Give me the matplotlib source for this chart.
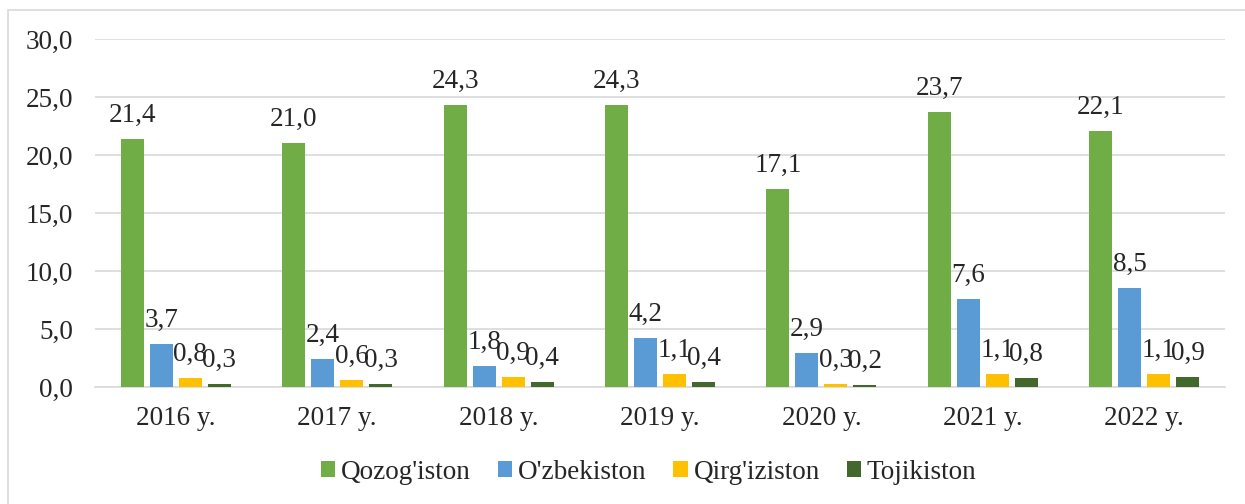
import matplotlib.pyplot as plt
import numpy as np
from matplotlib.patches import Rectangle

years = ["2016 y.", "2017 y.", "2018 y.", "2019 y.", "2020 y.", "2021 y.", "2022 y."]
qozogiston = [21.4, 21.0, 24.3, 24.3, 17.1, 23.7, 22.1]
ozbekiston = [3.7, 2.4, 1.8, 4.2, 2.9, 7.6, 8.5]
qirgiziston = [0.8, 0.6, 0.9, 1.1, 0.3, 1.1, 1.1]
tojikiston = [0.3, 0.3, 0.4, 0.4, 0.2, 0.8, 0.9]

series = [("Qozog'iston", qozogiston, "#70AD47"),
          ("O'zbekiston", ozbekiston, "#5B9BD5"),
          ("Qirg'iziston", qirgiziston, "#FFC000"),
          ("Tojikiston", tojikiston, "#43682B")]

plt.rcParams['font.family'] = ['Liberation Serif', 'DejaVu Serif']
fs = 19.5
txt = "#262626"

fig = plt.figure(figsize=(12.45, 5.04), dpi=100)
ax = fig.add_axes([95 / 1245, 1 - 387 / 504, 1130 / 1245, 348 / 504])

# outer chart border
fig.patches.append(Rectangle((8 / 1245, -0.01), 1.0, 1 - 10 / 504 + 0.01,
                             transform=fig.transFigure, fill=False,
                             edgecolor="#D9D9D9", linewidth=1.2))

x = np.arange(len(years))
w = 23 / 161.4
step = 29 / 161.4
for i, (name, vals, color) in enumerate(series):
    pos = x + (i - 1.5) * step
    ax.bar(pos, vals, width=w, color=color, label=name, zorder=3)
    for px, v in zip(pos, vals):
        ax.annotate(f"{v:.1f}".replace(".", ","), (px, v), xytext=(0, 8),
                    textcoords="offset points", ha="center", va="bottom",
                    fontsize=fs, color=txt, zorder=4)

ax.set_xlim(-0.5, len(years) - 0.5)
ax.set_ylim(0, 30)
ax.set_yticks(np.arange(0, 31, 5))
ax.set_yticklabels([f"{t:.1f}".replace(".", ",") for t in np.arange(0, 31, 5)])
ax.set_xticks(x)
ax.set_xticklabels(years)
ax.tick_params(axis="both", length=0, labelsize=fs, colors=txt)
ax.tick_params(axis="y", pad=16)
ax.tick_params(axis="x", pad=14)
ax.grid(axis="y", color="#D9D9D9", linewidth=1.2, zorder=0)
for s in ["top", "right", "left"]:
    ax.spines[s].set_visible(False)
ax.spines["bottom"].set_color("#D9D9D9")
ax.spines["bottom"].set_linewidth(1.2)

ax.legend(loc="center", bbox_to_anchor=(0.49, -0.245), ncol=4, frameon=False,
          fontsize=fs, handlelength=0.52, handleheight=0.52, handletextpad=0.22,
          columnspacing=1.0, labelcolor=txt)

fig.savefig("out.png", dpi=100)
